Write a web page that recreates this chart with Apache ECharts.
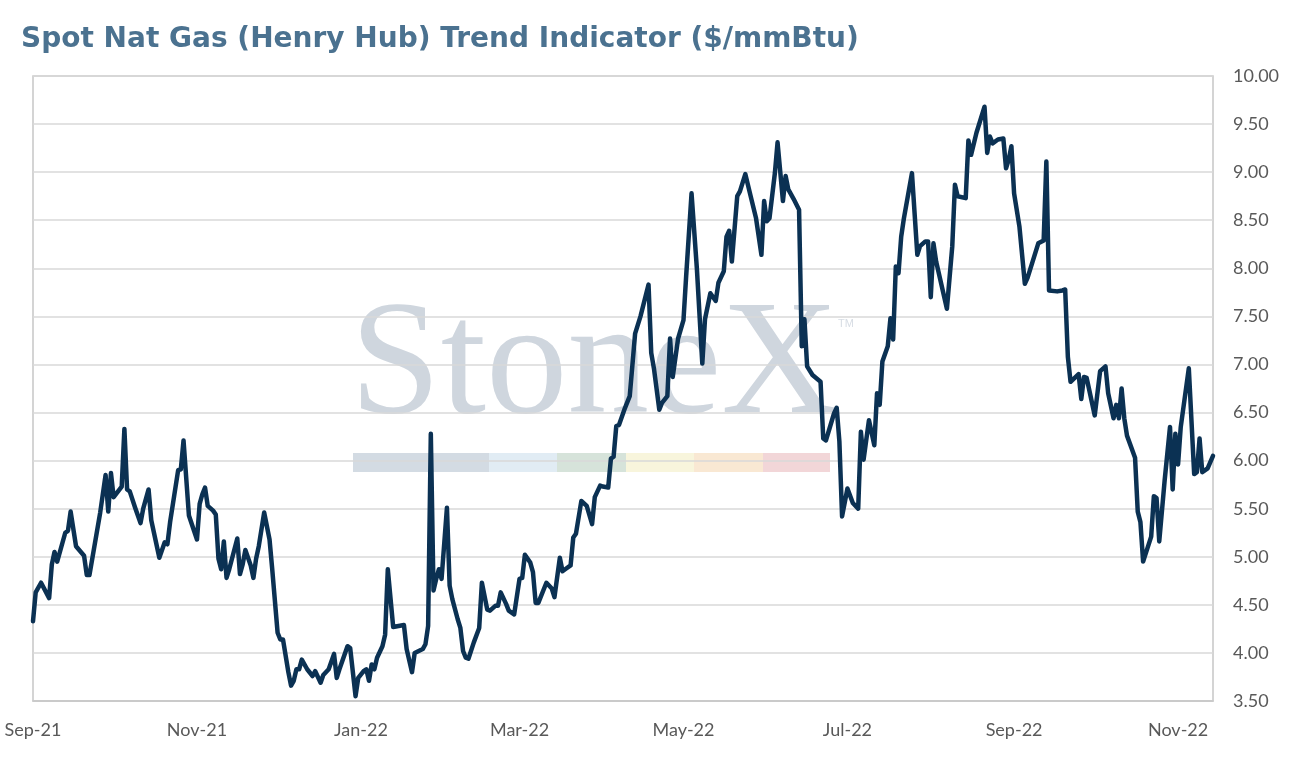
<!DOCTYPE html>
<html>
<head>
	<meta charset="UTF-8">
	<title>Spot Nat Gas Trend</title>
	<style>
		html,body{margin:0;padding:0;background:#fff;}
		#mychart{width:1291px;height:762px;}
	</style>
</head>
<body>
	<div id="mychart"></div>
<script type="text/javascript" src="https://cdn.jsdelivr.net/npm/echarts@6/dist/echarts.min.js"></script>
<script type="text/javascript">
	// days counted from 1 Sep 2021
	var startYear = 2021, startMonth = 8, startDay = 1;
	var daysFromStart = [0,1,3,6,7,8,9,12,13,14,16,19,20,21,25,27,28,29,30,33,34,35,36,38,40,41,43,44,47,49,50,51,54,55,56,58,
		61,62,63,64,65,67,68,69,70,71,72,73,76,77,78,79,81,82,83,84,86,88,89,91,92,93,95,96,97,98,99,100,102,104,105,107,108,110,
		112,113,114,117,118,120,121,123,124,125,126,127,128,130,131,132,134,138,139,141,142,145,146,147,148,149,150,151,152,154,
		155,156,158,159,160,161,162,164,166,167,169,170,172,173,174,176,177,179,181,182,183,185,186,187,188,191,193,194,196,197,
		198,200,201,202,204,206,208,209,211,212,214,215,216,217,218,220,222,224,226,229,230,231,233,234,236,237,238,240,242,243,
		245,247,249,250,252,254,255,257,258,259,260,262,263,265,267,269,271,272,273,274,276,277,279,280,281,283,285,286,287,288,
		290,293,294,295,298,299,300,301,303,305,307,308,309,311,313,314,315,316,318,319,320,321,322,323,324,327,329,330,332,333,
		334,335,336,340,342,343,344,347,348,349,351,354,355,356,357,359,361,362,363,364,365,367,369,370,374,376,377,378,381,383,
		384,385,386,389,390,391,392,395,397,399,400,402,403,404,405,406,407,410,411,412,413,416,417,418,419,421,423,424,425,426,
		427,430,432,433,434,435,437,439];
	var prices = [4.33,4.63,4.73,4.57,4.92,5.05,4.95,5.25,5.27,5.47,5.11,5.01,4.81,4.81,5.46,5.85,5.47,5.87,5.62,5.73,6.33,5.70,5.68,5.51,5.35,5.50,5.70,5.38,4.99,5.15,5.13,5.36,5.90,5.91,6.21,5.43,
		5.18,5.55,5.65,5.72,5.53,5.48,5.44,4.98,4.87,5.16,4.78,4.87,5.19,4.82,4.92,5.07,4.91,4.78,4.98,5.11,5.46,5.18,4.87,4.21,4.14,4.14,3.80,3.66,3.71,3.83,3.83,3.93,3.83,3.76,3.81,3.69,3.77,3.83,
		3.99,3.74,3.83,4.07,4.05,3.55,3.74,3.81,3.83,3.71,3.88,3.83,3.95,4.07,4.19,4.87,4.27,4.29,4.04,3.80,4.00,4.04,4.09,4.28,6.28,4.65,4.77,4.87,4.77,5.51,
		4.70,4.56,4.35,4.26,4.02,3.95,3.94,4.11,4.26,4.73,4.45,4.44,4.49,4.49,4.63,4.51,4.44,4.40,4.77,4.78,5.02,4.94,4.84,4.52,4.52,4.73,4.67,4.58,4.99,4.85,
		4.87,4.91,5.20,5.24,5.58,5.53,5.34,5.62,5.74,5.73,5.72,6.02,6.04,6.36,6.37,6.53,6.67,7.32,7.50,7.83,7.12,6.96,6.53,6.60,6.67,7.27,6.87,7.27,7.46,7.92,
		8.78,7.99,7.01,7.47,7.74,7.66,7.85,7.97,8.33,8.39,8.07,8.75,8.80,8.98,8.75,8.52,8.14,8.70,8.49,8.52,8.99,9.31,8.70,8.96,8.82,8.72,8.61,7.19,7.47,6.98,
		6.89,6.82,6.23,6.21,6.49,6.55,6.20,5.42,5.71,5.56,5.50,6.30,6.01,6.42,6.16,6.70,6.58,7.03,7.19,7.48,7.26,8.02,7.95,8.33,8.52,8.99,8.14,8.23,8.28,8.28,
		7.70,8.26,8.07,7.58,8.23,8.87,8.75,8.73,9.33,9.18,9.41,9.68,9.20,9.37,9.30,9.34,9.35,9.04,9.13,9.27,8.78,8.43,7.84,7.90,8.26,8.29,9.11,7.77,7.76,7.77,
		7.78,7.08,6.82,6.90,6.64,6.87,6.86,6.47,6.93,6.98,6.70,6.44,6.58,6.44,6.75,6.44,6.26,6.03,5.47,5.36,4.95,5.21,5.63,5.61,5.16,5.79,6.35,5.70,6.28,5.96,
		6.35,6.96,5.86,5.88,6.23,5.88,5.92,6.05];
	// x axis labels: every other month
	var labelMonths = [[2021,8],[2021,10],[2022,0],[2022,2],[2022,4],[2022,6],[2022,8],[2022,10]];
	var monthNames = ['Jan','Feb','Mar','Apr','May','Jun','Jul','Aug','Sep','Oct','Nov','Dec'];

	function dayToTime(d){
		return new Date(startYear, startMonth, startDay + d).getTime();
	}

	var seriesData = [];
	for (var i = 0; i < daysFromStart.length; i++) {
		seriesData.push([dayToTime(daysFromStart[i]), prices[i]]);
	}
	var labelTimes = labelMonths.map(function(m){ return new Date(m[0], m[1], 1).getTime(); });

	var myChart = echarts.init(document.getElementById('mychart'));
	var labelFont = 'Lato, "Open Sans", sans-serif';
	var option = {
		backgroundColor: '#fff',
		animation: false,
		title: {
			text: 'Spot Nat Gas (Henry Hub) Trend Indicator ($/mmBtu)',
			left: 16,
			top: 21,
			textStyle: {
				color: '#4b7290',
				fontSize: 28,
				fontWeight: 'bold',
				fontFamily: '"DejaVu Sans", sans-serif'
			}
		},
		grid: {
			left: 33,
			right: 78,
			top: 76,
			bottom: 61,
			show: true,
			borderColor: '#c6c6c6',
			borderWidth: 1.5
		},
		graphic: {
			elements: [
				{ type: 'text', left: 350, top: 288, z: -1, silent: true,
				  style: { text: 'StoneX', fill: '#cfd6de', font: '163px "Liberation Serif", serif' } },
				{ type: 'text', left: 838, top: 318, z: -1, silent: true,
				  style: { text: 'TM', fill: '#d7dde4', font: '11px "Liberation Sans", sans-serif' } },
				{ type: 'rect', z: -1, silent: true, shape: { x: 353, y: 453, width: 136, height: 19 }, style: { fill: '#d3dbe3' } },
				{ type: 'rect', z: -1, silent: true, shape: { x: 489, y: 453, width: 68, height: 19 }, style: { fill: '#e1ecf4' } },
				{ type: 'rect', z: -1, silent: true, shape: { x: 557, y: 453, width: 69, height: 19 }, style: { fill: '#d6e3da' } },
				{ type: 'rect', z: -1, silent: true, shape: { x: 626, y: 453, width: 68, height: 19 }, style: { fill: '#f8f5dc' } },
				{ type: 'rect', z: -1, silent: true, shape: { x: 694, y: 453, width: 69, height: 19 }, style: { fill: '#f9e8d3' } },
				{ type: 'rect', z: -1, silent: true, shape: { x: 763, y: 453, width: 67, height: 19 }, style: { fill: '#f2d6d8' } }
			]
		},
		xAxis: {
			type: 'value',
			min: dayToTime(0),
			max: dayToTime(439),
			axisLine: { show: true, lineStyle: { color: '#c6c6c6', width: 1.5 } },
			axisTick: { show: false },
			splitLine: { show: false },
			axisLabel: {
				customValues: labelTimes,
				showMinLabel: true,
				showMaxLabel: true,
				hideOverlap: false,
				color: '#595959',
				fontSize: 18,
				fontFamily: labelFont,
				margin: 20,
				formatter: function(val){
					var d = new Date(val);
					return monthNames[d.getMonth()] + '-' + String(d.getFullYear()).slice(2);
				}
			}
		},
		yAxis: {
			type: 'value',
			position: 'right',
			min: 3.5,
			max: 10,
			interval: 0.5,
			axisLine: { show: false },
			axisTick: { show: false },
			splitLine: { lineStyle: { color: '#d9d9d9', width: 1.5 } },
			axisLabel: {
				color: '#595959',
				fontSize: 18,
				fontFamily: labelFont,
				margin: 20,
				formatter: function(v){ return v.toFixed(2); }
			}
		},
		series: [
			{
				name: 'Henry Hub',
				type: 'line',
				data: seriesData,
				showSymbol: false,
				symbol: 'none',
				lineStyle: { color: '#0b3153', width: 4.5, join: 'round', cap: 'round' },
				z: 3
			}
		]
	};
	myChart.setOption(option);
	window.onresize = myChart.resize;
</script>
</body>
</html>
